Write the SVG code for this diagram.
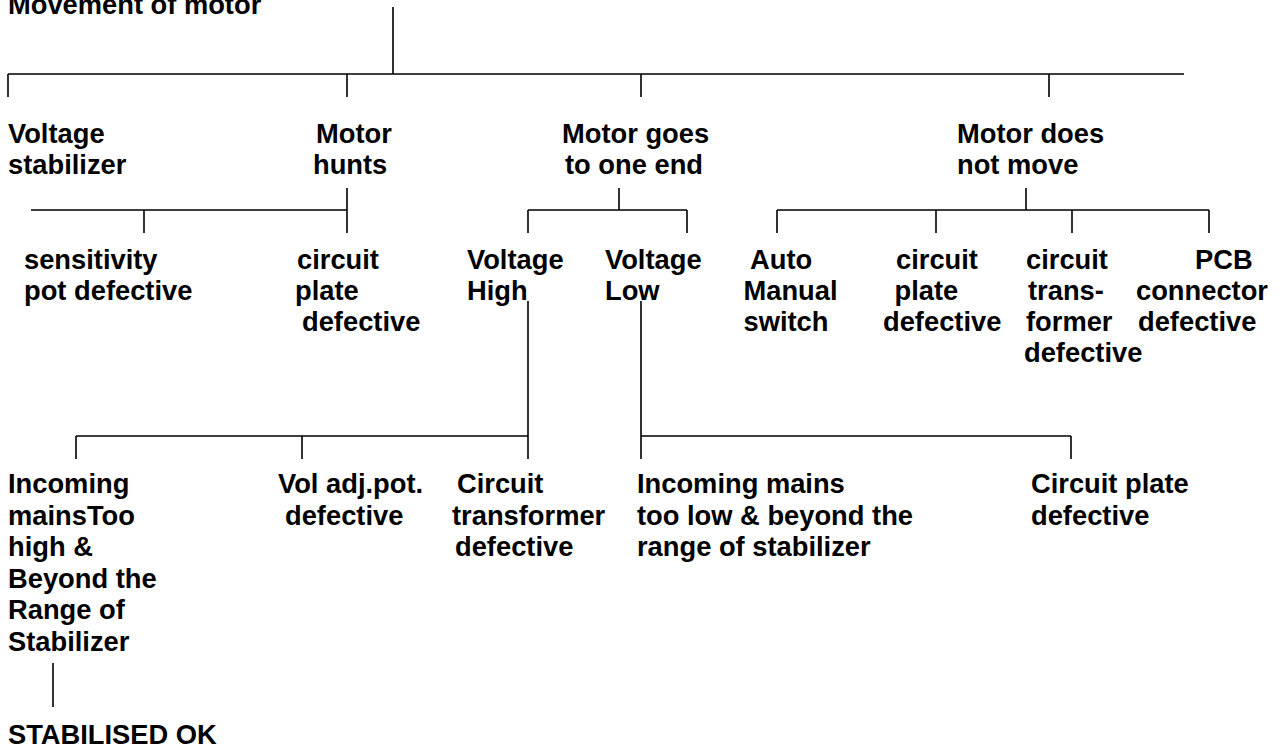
<svg xmlns="http://www.w3.org/2000/svg" width="1288" height="752" viewBox="0 0 1288 752">
<style>
text{font-family:"Liberation Sans",Arial,sans-serif;font-weight:bold;font-size:27.3px;fill:#000}
.c path{stroke:#000;stroke-width:1.6;fill:none}
</style>
<rect width="1288" height="752" fill="#fff"/>
<g class="c" id="connectors">
<path d="M393,7V74M8,74H1184M8,74V97M347,74V97M641,74V97M1049,74V97"/>
<path d="M347,188V233M31,210H347M144,210V233"/>
<path d="M619,188V210M528,210H687M528,210V233M687,210V233"/>
<path d="M1026,188V210M777,210H1209M777,210V233M936,210V233M1072,210V233M1209,210V233"/>
<path d="M528,301V459M76,436H528M76,436V459M302,436V459"/>
<path d="M641,301V459M641,436H1071M1071,436V459"/>
<path d="M53,663V707"/>
</g>
<g id="n-root"><text x="8" y="14">Movement of motor</text></g>
<g id="n-stab"><text><tspan x="8" y="143">Voltage</tspan><tspan x="8" y="174">stabilizer</tspan></text></g>
<g id="n-hunts"><text><tspan x="316" y="143">Motor</tspan><tspan x="313" y="174">hunts</tspan></text></g>
<g id="n-oneend"><text><tspan x="562" y="143">Motor goes</tspan><tspan x="565" y="174">to one end</tspan></text></g>
<g id="n-nomove"><text><tspan x="957" y="143">Motor does</tspan><tspan x="957" y="174">not move</tspan></text></g>
<g id="n-sens"><text><tspan x="24" y="269">sensitivity</tspan><tspan x="24" y="300">pot defective</tspan></text></g>
<g id="n-hunt-plate"><text><tspan x="297" y="269">circuit</tspan><tspan x="295" y="300">plate</tspan><tspan x="302" y="331">defective</tspan></text></g>
<g id="n-vhigh"><text><tspan x="467" y="269">Voltage</tspan><tspan x="467" y="300">High</tspan></text></g>
<g id="n-vlow"><text><tspan x="605" y="269">Voltage</tspan><tspan x="605" y="300">Low</tspan></text></g>
<g id="n-auto"><text><tspan x="750" y="269">Auto</tspan><tspan x="743.5" y="300">Manual</tspan><tspan x="743.5" y="331">switch</tspan></text></g>
<g id="n-nm-plate"><text><tspan x="896" y="269">circuit</tspan><tspan x="894.5" y="300">plate</tspan><tspan x="883" y="331">defective</tspan></text></g>
<g id="n-nm-trans"><text><tspan x="1026" y="269">circuit</tspan><tspan x="1028" y="300">trans-</tspan><tspan x="1026" y="331">former</tspan><tspan x="1024" y="362">defective</tspan></text></g>
<g id="n-pcb"><text><tspan x="1195" y="269">PCB</tspan><tspan x="1136" y="300">connector</tspan><tspan x="1138" y="331">defective</tspan></text></g>
<g id="n-inc-high"><text><tspan x="8" y="493">Incoming</tspan><tspan x="8" y="524.5">mainsToo</tspan><tspan x="8" y="556">high &amp;</tspan><tspan x="8" y="587.5">Beyond the</tspan><tspan x="8" y="619">Range of</tspan><tspan x="8" y="650.5">Stabilizer</tspan></text></g>
<g id="n-stab-ok"><text x="8" y="744">STABILISED OK</text></g>
<g id="n-voladj"><text><tspan x="278" y="493">Vol adj.pot.</tspan><tspan x="285" y="524.5">defective</tspan></text></g>
<g id="n-ctrans"><text><tspan x="457" y="493">Circuit</tspan><tspan x="452" y="524.5">transformer</tspan><tspan x="455" y="556">defective</tspan></text></g>
<g id="n-inc-low"><text><tspan x="637" y="493">Incoming mains</tspan><tspan x="637" y="524.5">too low &amp; beyond the</tspan><tspan x="637" y="556">range of stabilizer</tspan></text></g>
<g id="n-cplate"><text><tspan x="1031" y="493">Circuit plate</tspan><tspan x="1031" y="524.5">defective</tspan></text></g>
</svg>
